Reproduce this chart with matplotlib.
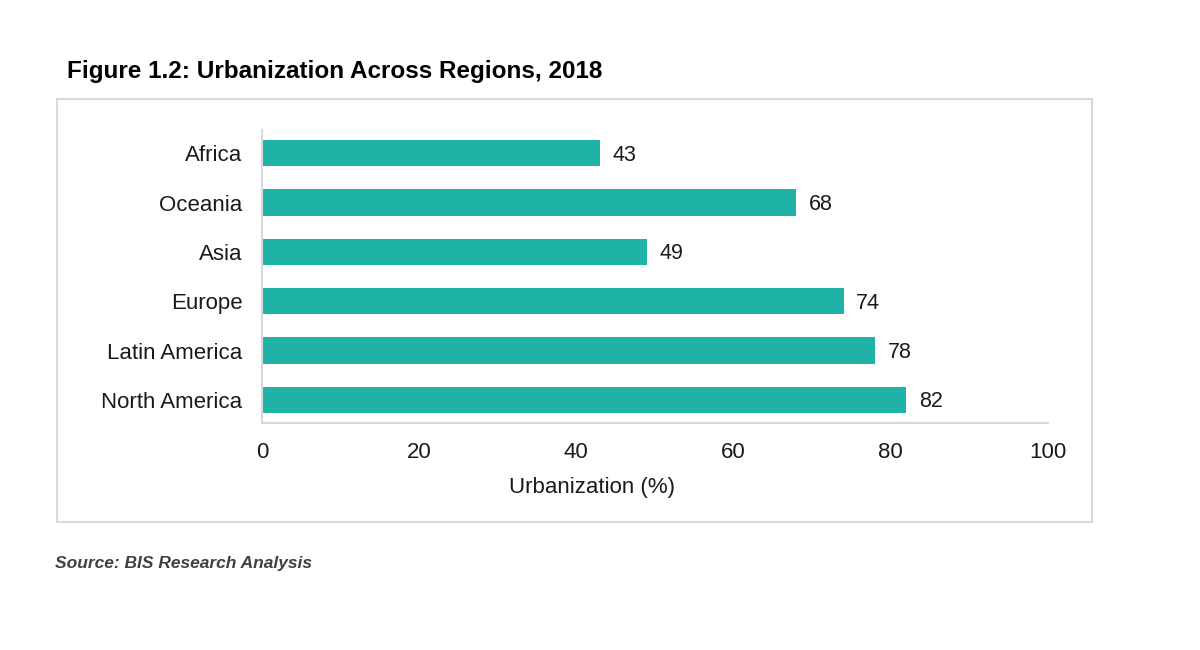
import matplotlib
matplotlib.use('Agg')
import matplotlib.pyplot as plt
from matplotlib.patches import Rectangle

# Данные
regions = ['Africa', 'Oceania', 'Asia', 'Europe', 'Latin America', 'North America']
urbanization = [43, 68, 49, 74, 78, 82]
x_ticks = [0, 20, 40, 60, 80, 100]

plt.rcParams['font.family'] = ['Liberation Sans', 'DejaVu Sans']

BAR_COLOR = '#1fb3a8'
GRID_GRAY = '#d9d9d9'

fig = plt.figure(figsize=(12, 6.5), dpi=100)

# Рамка вокруг графика
fig.patches.append(Rectangle((0.0475, 0.197), 0.8625, 0.6508, transform=fig.transFigure,
                             fill=False, edgecolor=GRID_GRAY, linewidth=1.5, zorder=0))

ax = fig.add_axes([0.2183, 0.3492, 0.655, 0.4508])

y_pos = list(range(len(regions)))
bars = ax.barh(y_pos, urbanization, height=0.53, color=BAR_COLOR)

# Подписи значений справа от столбцов
for y, v in zip(y_pos, urbanization):
    ax.annotate(str(v), xy=(v, y), xytext=(9, -1.5), textcoords='offset points',
                ha='left', va='center', fontsize=15.5, color='#1a1a1a')

ax.set_xlim(0, 100)
ax.set_ylim(5.47, -0.47)
ax.set_yticks(y_pos)
ax.set_yticklabels(regions)
ax.set_xticks(x_ticks)
ax.set_xticklabels([str(t) for t in x_ticks])
ax.tick_params(axis='both', length=0, labelsize=16, labelcolor='#1a1a1a')
ax.tick_params(axis='y', pad=14)
ax.tick_params(axis='x', pad=14)

for side in ['top', 'right']:
    ax.spines[side].set_visible(False)
for side in ['left', 'bottom']:
    ax.spines[side].set_color(GRID_GRAY)
    ax.spines[side].set_linewidth(1.5)

ax.set_xlabel('Urbanization (%)', fontsize=16, color='#1a1a1a')
ax.xaxis.set_label_coords(0.42, -0.22)
ax.xaxis.label.set_va('center')

fig.text(0.0558, 0.8905, 'Figure 1.2: Urbanization Across Regions, 2018',
         fontsize=17.5, fontweight='bold', ha='left', va='center', color='black')
fig.text(0.046, 0.1325, 'Source: BIS Research Analysis', fontsize=12.5,
         fontweight='bold', fontstyle='italic', ha='left', va='center', color='#404040')

fig.savefig('out.png', dpi=100)
